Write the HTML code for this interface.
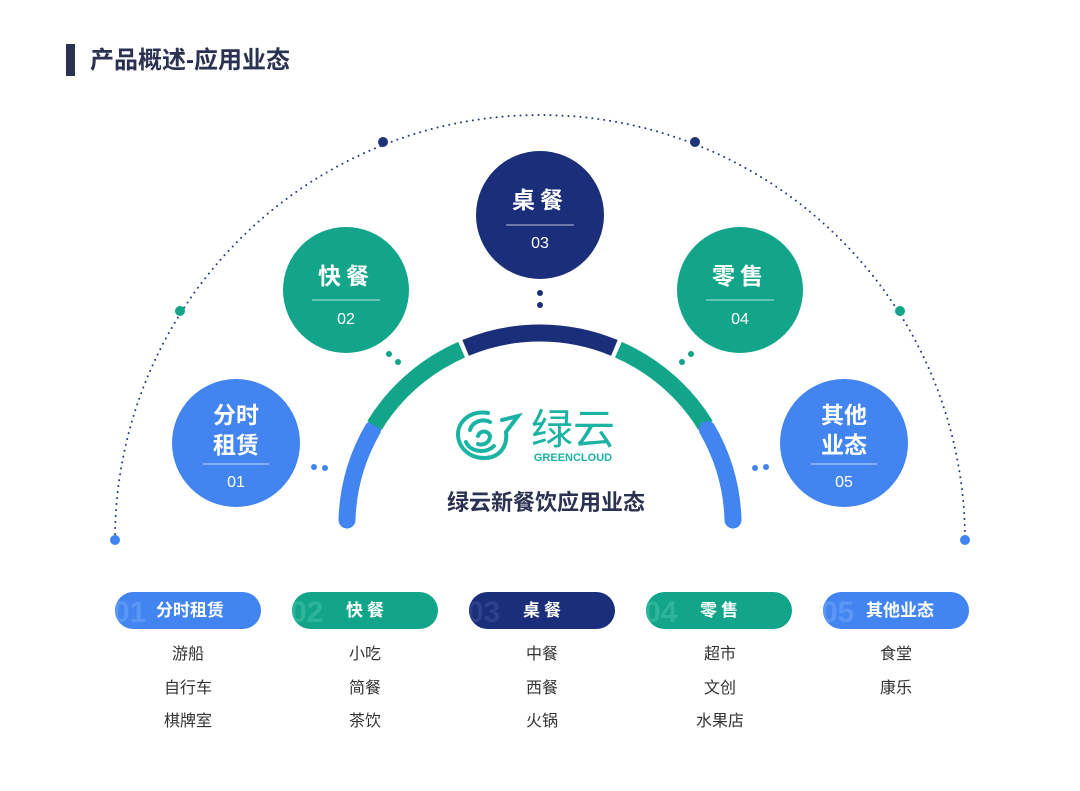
<!DOCTYPE html>
<html><head><meta charset="utf-8"><style>
body{margin:0;background:#fff;}
svg text{font-family:"Liberation Sans","Noto Sans CJK SC",sans-serif;}
</style></head><body>
<svg width="1080" height="786" viewBox="0 0 1080 786" xmlns="http://www.w3.org/2000/svg">
<defs>
<clipPath id="p1"><rect x="115" y="592" width="146" height="37" rx="18.5"/></clipPath>
<clipPath id="p2"><rect x="292" y="592" width="146" height="37" rx="18.5"/></clipPath>
<clipPath id="p3"><rect x="469" y="592" width="146" height="37" rx="18.5"/></clipPath>
<clipPath id="p4"><rect x="646" y="592" width="146" height="37" rx="18.5"/></clipPath>
<clipPath id="p5"><rect x="823" y="592" width="146" height="37" rx="18.5"/></clipPath>
</defs>
<rect width="1080" height="786" fill="#fff"/>
<rect x="66" y="44" width="9" height="32" fill="#2b3150"/>
<text x="90" y="68" font-size="24" font-weight="bold" fill="#2b3150">产品概述-应用业态</text>
<path d="M115 540 A425 425 0 0 1 965 540" fill="none" stroke="#1d3577" stroke-width="2" stroke-dasharray="0 6" stroke-linecap="round"/>
<circle cx="115" cy="540" r="5" fill="#4285f0"/>
<circle cx="965" cy="540" r="5" fill="#4285f0"/>
<circle cx="180" cy="311" r="5" fill="#13a58a"/>
<circle cx="900" cy="311" r="5" fill="#13a58a"/>
<circle cx="383" cy="142" r="5" fill="#1d3577"/>
<circle cx="695" cy="142" r="5" fill="#1d3577"/>
<g fill="none" stroke-width="17">
<path d="M347 520 A193 193 0 0 1 372.6 429.5" stroke="#4285f0" stroke-linecap="round"/>
<path d="M374.5 425.4 A193 193 0 0 1 461.6 349.7" stroke="#13a58a"/>
<path d="M465.6 347.9 A193 193 0 0 1 614.4 347.9" stroke="#1a2e7a"/>
<path d="M618.4 349.7 A193 193 0 0 1 705.5 425.4" stroke="#13a58a"/>
<path d="M707.4 429.5 A193 193 0 0 1 733 520" stroke="#4285f0" stroke-linecap="round"/>
</g>
<g fill="none" stroke="#1bb3a3" stroke-width="4" stroke-linecap="round">
<path d="M488 413 C470 410 458 422 458 434 C458 448 470 458 484 458 C498 458 508 448 506 432 L518 416 L502 420"/>
<path d="M470 430 C472 422 482 418 490 422"/>
<path d="M478 436 C480 430 488 430 490 436 C490 442 484 446 478 444"/>
<path d="M466 442 C470 452 486 454 494 446"/>
</g>
<text x="573" y="444" font-size="42" fill="#1bb3a3" text-anchor="middle">绿云</text>
<text x="573" y="461" font-size="11" font-weight="bold" fill="#1bb3a3" text-anchor="middle">GREENCLOUD</text>
<text x="546" y="510" font-size="22" font-weight="bold" fill="#2b3150" text-anchor="middle">绿云新餐饮应用业态</text>
<g>
<circle cx="314" cy="467" r="3" fill="#4285f0"/><circle cx="325" cy="468" r="3" fill="#4285f0"/>
<circle cx="755" cy="468" r="3" fill="#4285f0"/><circle cx="766" cy="467" r="3" fill="#4285f0"/>
<circle cx="389" cy="354" r="3" fill="#13a58a"/><circle cx="398" cy="362" r="3" fill="#13a58a"/>
<circle cx="682" cy="362" r="3" fill="#13a58a"/><circle cx="691" cy="354" r="3" fill="#13a58a"/>
<circle cx="540" cy="293" r="3" fill="#1a2e7a"/><circle cx="540" cy="305" r="3" fill="#1a2e7a"/>
</g>
<g text-anchor="middle" fill="#fff">
<circle cx="236" cy="443" r="64" fill="#4285f0"/>
<text x="236" y="423" font-size="23" font-weight="bold" fill="#fff">分时</text>
<text x="236" y="453" font-size="23" font-weight="bold" fill="#fff">租赁</text>
<line x1="203" y1="464" x2="269" y2="464" stroke="#fff" stroke-opacity=".7"/>
<text x="236" y="487" font-size="16" fill="#fff">01</text>
<circle cx="346" cy="290" r="63" fill="#13a58a"/>
<text x="346" y="284" font-size="23" font-weight="bold" fill="#fff" letter-spacing="5">快餐</text>
<line x1="312" y1="300" x2="380" y2="300" stroke="#fff" stroke-opacity=".7"/>
<text x="346" y="324" font-size="16" fill="#fff">02</text>
<circle cx="540" cy="215" r="64" fill="#1a2e7a"/>
<text x="540" y="208" font-size="23" font-weight="bold" fill="#fff" letter-spacing="5">桌餐</text>
<line x1="506" y1="225" x2="574" y2="225" stroke="#fff" stroke-opacity=".7"/>
<text x="540" y="248" font-size="16" fill="#fff">03</text>
<circle cx="740" cy="290" r="63" fill="#13a58a"/>
<text x="740" y="284" font-size="23" font-weight="bold" fill="#fff" letter-spacing="5">零售</text>
<line x1="706" y1="300" x2="774" y2="300" stroke="#fff" stroke-opacity=".7"/>
<text x="740" y="324" font-size="16" fill="#fff">04</text>
<circle cx="844" cy="443" r="64" fill="#4285f0"/>
<text x="844" y="423" font-size="23" font-weight="bold" fill="#fff">其他</text>
<text x="844" y="453" font-size="23" font-weight="bold" fill="#fff">业态</text>
<line x1="811" y1="464" x2="877" y2="464" stroke="#fff" stroke-opacity=".7"/>
<text x="844" y="487" font-size="16" fill="#fff">05</text>
</g>
<g text-anchor="middle">
<rect x="115" y="592" width="146" height="37" rx="18.5" fill="#4285f0"/>
<text x="113" y="622" font-size="30" font-weight="bold" fill="#5a96f5" text-anchor="start" clip-path="url(#p1)">01</text>
<text x="190" y="616" font-size="17" font-weight="bold" fill="#fff">分时租赁</text>
<rect x="292" y="592" width="146" height="37" rx="18.5" fill="#13a58a"/>
<text x="290" y="622" font-size="30" font-weight="bold" fill="#2cb598" text-anchor="start" clip-path="url(#p2)">02</text>
<text x="367" y="616" font-size="17" font-weight="bold" fill="#fff" letter-spacing="4">快餐</text>
<rect x="469" y="592" width="146" height="37" rx="18.5" fill="#1a2e7a"/>
<text x="467" y="622" font-size="30" font-weight="bold" fill="#2c418a" text-anchor="start" clip-path="url(#p3)">03</text>
<text x="544" y="616" font-size="17" font-weight="bold" fill="#fff" letter-spacing="4">桌餐</text>
<rect x="646" y="592" width="146" height="37" rx="18.5" fill="#13a58a"/>
<text x="644" y="622" font-size="30" font-weight="bold" fill="#2cb598" text-anchor="start" clip-path="url(#p4)">04</text>
<text x="721" y="616" font-size="17" font-weight="bold" fill="#fff" letter-spacing="4">零售</text>
<rect x="823" y="592" width="146" height="37" rx="18.5" fill="#4285f0"/>
<text x="821" y="622" font-size="30" font-weight="bold" fill="#5a96f5" text-anchor="start" clip-path="url(#p5)">05</text>
<text x="900" y="616" font-size="17" font-weight="bold" fill="#fff">其他业态</text>
</g>
<g text-anchor="middle" font-size="16" fill="#333">
<text x="188" y="659">游船</text><text x="188" y="693">自行车</text><text x="188" y="726">棋牌室</text>
<text x="365" y="659">小吃</text><text x="365" y="693">简餐</text><text x="365" y="726">茶饮</text>
<text x="542" y="659">中餐</text><text x="542" y="693">西餐</text><text x="542" y="726">火锅</text>
<text x="720" y="659">超市</text><text x="720" y="693">文创</text><text x="720" y="726">水果店</text>
<text x="896" y="659">食堂</text><text x="896" y="693">康乐</text>
</g>
</svg>
</body></html>
